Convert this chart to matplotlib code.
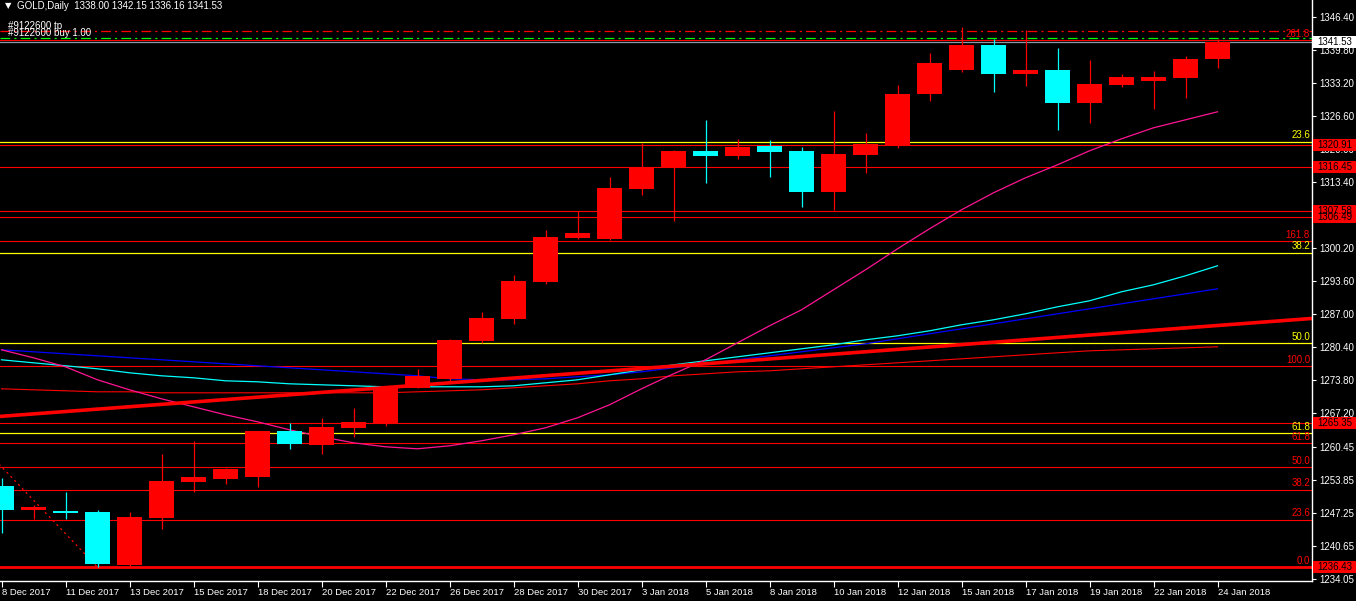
import matplotlib
matplotlib.use("Agg")
import matplotlib.pyplot as plt
import matplotlib.transforms as mtransforms
from matplotlib.patches import Rectangle
import numpy as np

plt.rcParams['font.family'] = ['Liberation Sans', 'DejaVu Sans']
plt.rcParams['lines.scale_dashes'] = False

# daily OHLC, GOLD, 8 Dec 2017 .. 24 Jan 2018 (bar index 0..38)
opens = [1252.66, 1247.90, 1247.70, 1247.46, 1236.90, 1246.30, 1253.50, 1254.10, 1254.50, 1263.66,
         1260.90, 1264.30, 1265.10, 1272.30, 1274.10, 1281.70, 1286.10, 1293.50, 1302.30, 1302.10,
         1312.10, 1316.46, 1319.66, 1318.70, 1320.70, 1319.66, 1311.50, 1318.90, 1320.70, 1331.10,
         1335.86, 1340.86, 1335.10, 1335.86, 1329.30, 1332.90, 1333.70, 1334.30, 1338.00]
highs = [1254.26, 1248.90, 1251.50, 1247.86, 1247.50, 1259.06, 1261.66, 1256.30, 1263.70, 1265.20,
         1266.26, 1268.30, 1272.70, 1276.00, 1282.06, 1287.50, 1294.86, 1303.86, 1307.60, 1314.46,
         1321.26, 1319.90, 1325.86, 1322.06, 1321.86, 1320.46, 1327.66, 1323.26, 1332.86, 1339.26,
         1344.46, 1342.06, 1343.86, 1340.26, 1337.86, 1335.06, 1335.66, 1338.66, 1342.15]
lows = [1243.26, 1246.06, 1246.06, 1236.43, 1236.70, 1244.10, 1251.50, 1253.10, 1252.50, 1260.00,
        1259.10, 1262.50, 1264.70, 1272.20, 1273.50, 1281.20, 1285.10, 1293.06, 1302.10, 1301.86,
        1310.90, 1305.70, 1313.30, 1318.06, 1314.50, 1308.50, 1307.90, 1315.30, 1320.30, 1329.70,
        1335.50, 1331.50, 1332.70, 1323.90, 1325.30, 1332.50, 1328.10, 1330.30, 1336.16]
closes = [1247.86, 1248.50, 1247.30, 1237.06, 1246.50, 1253.66, 1254.46, 1256.06, 1263.66, 1261.00,
          1264.40, 1265.40, 1272.50, 1274.66, 1281.86, 1286.26, 1293.66, 1302.46, 1303.26, 1312.26,
          1316.46, 1319.66, 1318.70, 1320.46, 1319.50, 1311.50, 1319.06, 1321.06, 1331.06, 1337.26,
          1340.86, 1335.10, 1335.86, 1329.30, 1333.06, 1334.46, 1334.46, 1338.06, 1341.53]

# moving averages
ma_pink = [1279.9, 1278.3, 1276.5, 1273.9, 1271.9, 1270.1, 1268.5, 1266.9, 1265.5, 1263.9,
           1262.5, 1261.3, 1260.5, 1260.1, 1260.7, 1261.7, 1262.9, 1264.3, 1266.3, 1268.9,
           1272.1, 1275.1, 1277.9, 1281.3, 1284.7, 1287.9, 1291.9, 1295.9, 1300.1, 1304.1,
           1307.9, 1311.3, 1314.3, 1316.9, 1319.7, 1322.1, 1324.3, 1325.9, 1327.5]
ma_cyan = [1277.9, 1277.3, 1276.7, 1276.1, 1275.3, 1274.7, 1274.3, 1273.7, 1273.5, 1273.1,
           1272.9, 1272.7, 1272.5, 1272.5, 1272.5, 1272.5, 1272.7, 1273.3, 1273.9, 1274.9,
           1275.9, 1276.9, 1277.7, 1278.5, 1279.3, 1280.1, 1280.9, 1281.9, 1282.7, 1283.7,
           1284.9, 1285.9, 1287.1, 1288.5, 1289.7, 1291.5, 1292.9, 1294.7, 1296.7]
ma_blue = [1279.9, 1279.5, 1279.1, 1278.7, 1278.3, 1277.9, 1277.5, 1277.1, 1276.7, 1276.3,
           1275.9, 1275.5, 1275.1, 1274.7, 1274.1, 1273.9, 1273.9, 1274.1, 1274.5, 1274.9,
           1275.5, 1276.3, 1277.1, 1277.9, 1278.7, 1279.5, 1280.3, 1281.1, 1282.1, 1283.1,
           1284.1, 1285.1, 1286.1, 1287.1, 1288.1, 1289.1, 1290.1, 1291.1, 1292.1]
ma_red = [1272.1, 1271.9, 1271.7, 1271.5, 1271.5, 1271.3, 1271.3, 1271.3, 1271.3, 1271.3,
          1271.3, 1271.3, 1271.3, 1271.5, 1271.7, 1271.9, 1272.3, 1272.7, 1273.1, 1273.7,
          1274.1, 1274.7, 1275.1, 1275.5, 1275.7, 1276.1, 1276.5, 1276.9, 1277.3, 1277.7,
          1278.1, 1278.5, 1278.9, 1279.3, 1279.7, 1279.9, 1280.1, 1280.3, 1280.5]

date_labels = ['8 Dec 2017', '11 Dec 2017', '13 Dec 2017', '15 Dec 2017', '18 Dec 2017',
               '20 Dec 2017', '22 Dec 2017', '26 Dec 2017', '28 Dec 2017', '30 Dec 2017',
               '3 Jan 2018', '5 Jan 2018', '8 Jan 2018', '10 Jan 2018', '12 Jan 2018',
               '15 Jan 2018', '17 Jan 2018', '19 Jan 2018', '22 Jan 2018', '24 Jan 2018']
price_ticks = [1346.40, 1339.80, 1333.20, 1326.60, 1320.00, 1313.40, 1306.80, 1300.20, 1293.60,
               1287.00, 1280.40, 1273.80, 1267.20, 1260.45, 1253.85, 1247.25, 1240.65, 1234.05]

# horizontal levels
red_levels = [1320.91, 1316.45, 1307.58, 1306.49, 1265.35]
fib_red = {'261.8': 1341.8, '161.8': 1301.6, '100.0': 1276.6, '61.8': 1261.2,
           '50.0': 1256.4, '38.2': 1251.9, '23.6': 1245.9, '0.0': 1236.43}
fib_yellow = {'23.6': 1321.5, '38.2': 1299.3, '50.0': 1281.2, '61.8': 1263.2}
tp_price = 1343.6
buy_price = 1342.2
bid = 1341.53
boxed_levels = [1320.91, 1316.45, 1307.58, 1306.49, 1265.35, 1236.43]

# trend line anchors (bar, price)
trend_a = (0, 1266.6)
trend_b = (38, 1284.76)
fib_a = (-3, 1276.6)
fib_b = (3, 1236.43)

bg = 'black'
fig = plt.figure(figsize=(13.56, 6.01), dpi=100, facecolor=bg)
ax = fig.add_axes([0, 20 / 601, 1312 / 1356, 581 / 601], facecolor=bg)

x0 = -1.5 / 32
x1 = (1312 - 1.5) / 32
ax.set_xlim(x0, x1)
ax.set_ylim(1233.66, 1349.86)
blend = mtransforms.blended_transform_factory(ax.transAxes, ax.transData)

n = len(opens)
xs = np.arange(n)

# horizontal lines
for p in red_levels:
    ax.axhline(p, color='#ff0000', lw=0.8, zorder=1)
for lab, p in fib_red.items():
    ax.axhline(p, color='#ff0000', lw=2.0 if lab == '0.0' else 0.8, zorder=1)
    ax.text(1310 / 1312, p + 0.3, lab, color='#ff0000', fontsize=7, ha='right', va='bottom',
            transform=blend)
for lab, p in fib_yellow.items():
    ax.axhline(p, color='#ffff00', lw=0.9, zorder=1)
    ax.text(1310 / 1312, p + 0.3, lab, color='#ffff00', fontsize=7, ha='right', va='bottom',
            transform=blend)
ax.axhline(tp_price, color='#ff0000', lw=0.9, ls=(0, (7, 3, 1.5, 3)), zorder=1)
ax.axhline(buy_price, color='#00ff00', lw=0.9, ls=(0, (7, 3, 1.5, 3)), zorder=1)
ax.axhline(bid, color='#8c9aa8', lw=0.9, zorder=1)

ax.text(8 / 1312, tp_price, '#9122600 tp', color='white', fontsize=7, va='bottom', transform=blend)
ax.text(8 / 1312, buy_price, '#9122600 buy 1.00', color='white', fontsize=7, va='bottom',
        transform=blend)

# moving averages
ax.plot(xs, ma_red, color='#ff0000', lw=0.8, zorder=2)
ax.plot(xs, ma_blue, color='#0000ff', lw=0.9, zorder=2)
ax.plot(xs, ma_cyan, color='#00ffff', lw=0.9, zorder=2)
ax.plot(xs, ma_pink, color='#ff1493', lw=0.9, zorder=2)

# trend line (ray to the right)
slope = (trend_b[1] - trend_a[1]) / (trend_b[0] - trend_a[0])
tx = np.array([x0, x1])
ax.plot(tx, trend_a[1] + slope * (tx - trend_a[0]), color='#ff0000', lw=2.6, zorder=2,
        solid_capstyle='butt')

# fibo base line
ax.plot([fib_a[0], fib_b[0]], [fib_a[1], fib_b[1]], color='#ff0000', lw=0.9,
        ls=(0, (1.5, 2.5)), zorder=2)

# candles
for i in range(n):
    o, h, l, c = opens[i], highs[i], lows[i], closes[i]
    col = '#ff0000' if c >= o else '#00ffff'
    ax.vlines(i, l, h, color=col, lw=0.9, zorder=3)
    lo, hi = min(o, c), max(o, c)
    ax.bar(i, max(hi - lo, 0.3), bottom=lo, width=0.78, color=col, zorder=4, linewidth=0)

# axes styling
for s in ['top', 'left']:
    ax.spines[s].set_visible(False)
for s in ['right', 'bottom']:
    ax.spines[s].set_color('white')
    ax.spines[s].set_linewidth(1)

ax.yaxis.tick_right()
ax.set_yticks(price_ticks)
ax.set_yticklabels(['%.2f' % p for p in price_ticks])
ax.tick_params(axis='y', colors='white', labelcolor='white', labelsize=7, length=3,
               width=0.8, pad=2, direction='out')
ax.set_xticks(np.arange(0, n, 2))
ax.set_xticklabels(date_labels, ha='left')
ax.tick_params(axis='x', colors='white', labelcolor='white', labelsize=6.8, length=4,
               width=0.8, pad=1, direction='out')

# price boxes on the axis
box_w = (1356 - 1313) / 1312
box_h = 12 / 5.0
for p in boxed_levels + [bid]:
    fc = 'white' if p == bid else '#ff0000'
    ax.add_patch(Rectangle((1313 / 1312, p - box_h / 2), box_w, box_h, transform=blend,
                           facecolor=fc, edgecolor='none', clip_on=False, zorder=9))
    ax.text(1317 / 1312, p, '%.2f' % p, color='black', fontsize=7, ha='left', va='center',
            transform=blend, clip_on=False, zorder=10)

# header
fig.text(5 / 1356, 1 - 6 / 601, u'\u25bc', color='white', fontsize=6, va='center',
         family='DejaVu Sans')
fig.text(17 / 1356, 1 - 6 / 601,
         'GOLD,Daily  %.2f %.2f %.2f %.2f' % (opens[-1], highs[-1], lows[-1], closes[-1]),
         color='white', fontsize=7, va='center')

fig.savefig('out.png', dpi=100, facecolor=bg)
